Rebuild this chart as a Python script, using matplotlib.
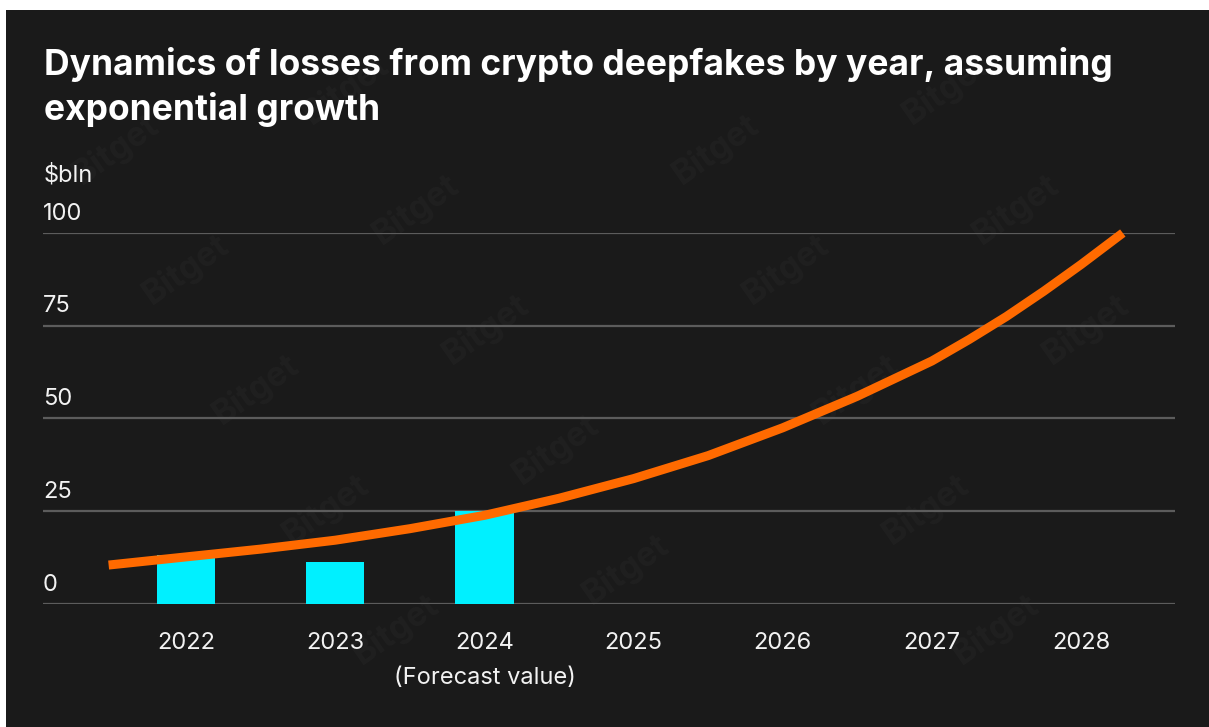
import numpy as np
import matplotlib.pyplot as plt
from matplotlib.transforms import blended_transform_factory

# losses in $bln
years = ['2022', '2023', '2024', '2025', '2026', '2027', '2028']
bar_values = [13.2, 11.4, 25.0]

# exponential trend, read at fractional year positions (0 = 2022)
trend_x = [-0.52, 0.0, 0.5, 1.0, 1.5, 2.0, 2.5, 3.0, 3.5, 4.0, 4.5, 5.0, 5.25, 5.5, 5.75, 6.0, 6.28]
trend_y = [10.5, 12.7, 14.8, 17.2, 20.3, 23.9, 28.5, 33.8, 40.0, 47.5, 56.0, 65.5, 71.3, 77.5, 84.3, 91.5, 100.0]

y_ticks = [0, 25, 50, 75, 100]

bg = '#1a1a1a'
cyan = '#00f0ff'
orange = '#ff6a00'
grid_col = '#5c5c5c'
txt = '#f2f2f2'

plt.rcParams['font.family'] = ['Inter', 'DejaVu Sans']

W, H = 1209, 727
fig = plt.figure(figsize=(W / 100, H / 100), dpi=100)
fig.patch.set_facecolor('white')

# dark panel with thin white margin at top/left
panel = fig.add_axes([6 / W, 0, 1 - 6 / W, 1 - 10 / H])
panel.set_facecolor(bg)
panel.set_xlim(0, W - 6)
panel.set_ylim(H - 10, 0)
panel.set_xticks([])
panel.set_yticks([])
for s in panel.spines.values():
    s.set_visible(False)

# faint watermarks, only where they fit whole
for row in range(-1, 6):
    for col in range(-1, 5):
        px = 110 + col * 300 + row * 70
        py = 140 + row * 120 + (col % 2) * 60
        if 70 < px < W - 80 and 60 < py < H - 60:
            panel.text(px, py, 'Bitget', color='#202020', fontsize=24, fontweight='bold',
                       rotation=35, ha='center', va='center', zorder=0)

ax = fig.add_axes([43 / W, (H - 604) / H, (1175 - 43) / W, (604 - 233) / H])
ax.patch.set_alpha(0)
ax.set_xlim(-0.96, 6.63)
ax.set_ylim(0, 100)
for s in ax.spines.values():
    s.set_visible(False)
ax.set_xticks([])
ax.set_yticks([])

for v in y_ticks:
    ax.axhline(v, color=grid_col, lw=1.6, zorder=1)

x = np.arange(len(years))
ax.bar(x[:len(bar_values)], bar_values, width=0.39, color=cyan, zorder=2)
ax.plot(trend_x, trend_y, color=orange, lw=6.5, solid_capstyle='butt',
        solid_joinstyle='round', zorder=3, clip_on=False)

tr = blended_transform_factory(ax.transAxes, ax.transData)
for v in y_ticks:
    ax.annotate(str(v), xy=(0, v), xycoords=tr, xytext=(0, 14), textcoords='offset points',
                ha='left', va='center', fontsize=17, color=txt)

for xi, yr in zip(x, years):
    ax.annotate(yr, xy=(xi, 0), xycoords='data', xytext=(0, -28), textcoords='offset points',
                ha='center', va='center', fontsize=17, color=txt)

ax.annotate('(Forecast value)', xy=(2, 0), xycoords='data', xytext=(0, -53),
            textcoords='offset points', ha='center', va='center', fontsize=17, color=txt)

fig.text(44 / W, 1 - 175 / H, '$bln', fontsize=17, color=txt, ha='left', va='center')
fig.text(44 / W, 1 - 75 / H, 'Dynamics of losses from crypto deepfakes by year, assuming',
         fontsize=25.5, fontweight='bold', color='white', ha='left', va='baseline')
fig.text(44 / W, 1 - 120 / H, 'exponential growth',
         fontsize=25.5, fontweight='bold', color='white', ha='left', va='baseline')

fig.savefig('out.png', dpi=100, facecolor=fig.get_facecolor())
